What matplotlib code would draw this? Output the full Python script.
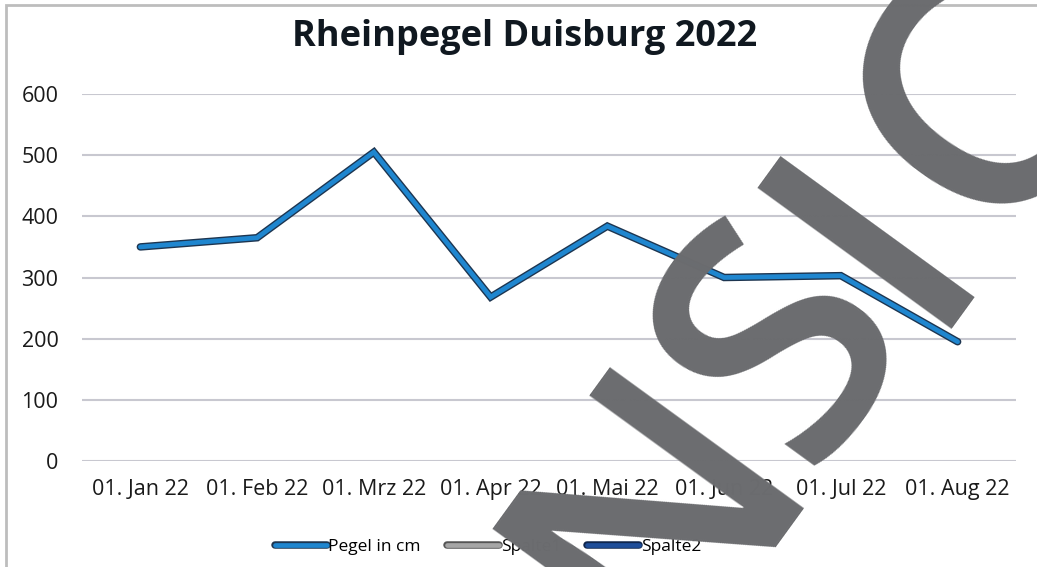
import matplotlib
matplotlib.use("Agg")
import matplotlib.pyplot as plt
import matplotlib.patheffects as pe
from matplotlib.patches import Rectangle

categories = ["01. Jan 22", "01. Feb 22", "01. Mrz 22", "01. Apr 22",
              "01. Mai 22", "01. Jun 22", "01. Jul 22", "01. Aug 22"]
pegel_cm = [350, 365, 505, 268, 384, 300, 303, 195]
spalte1 = []
spalte2 = []
yticks = [0, 100, 200, 300, 400, 500, 600]
watermark = "ANSICHT"

plt.rcParams['font.family'] = ['Open Sans', 'DejaVu Sans']

fig = plt.figure(figsize=(10.37, 5.67), dpi=100)
ax = fig.add_axes([82/1037, 1-461/567, (1016-82)/1037, (461-94)/567])

x = list(range(len(categories)))
ax.plot(x, pegel_cm, color='#1f86cf', lw=3.4, solid_capstyle='round', solid_joinstyle='miter',
        label='Pegel in cm', zorder=3,
        path_effects=[pe.Stroke(linewidth=5.4, foreground='#1d3550', capstyle='round'), pe.Normal()])
ax.plot(spalte1, spalte1, color='#a6a6a6', lw=3.4, solid_capstyle='round', label='Spalte1',
        path_effects=[pe.Stroke(linewidth=5.4, foreground='#555555', capstyle='round'), pe.Normal()])
ax.plot(spalte2, spalte2, color='#1f4e9a', lw=3.4, solid_capstyle='round', label='Spalte2',
        path_effects=[pe.Stroke(linewidth=5.4, foreground='#10264d', capstyle='round'), pe.Normal()])

ax.set_xlim(-0.5, len(categories) - 0.5)
ax.set_ylim(0, 600)
ax.set_yticks(yticks)
ax.set_xticks(x)
ax.set_xticklabels(categories)
ax.grid(axis='y', color='#c8c8d0', lw=1.5)
ax.set_axisbelow(True)
for s in ax.spines.values():
    s.set_visible(False)
ax.tick_params(length=0, labelsize=15.5, colors='#1a1a1a')
ax.tick_params(axis='y', pad=17)
ax.tick_params(axis='x', pad=13)

fig.text(525/1037, 1-37/567, "Rheinpegel Duisburg 2022", ha='center', va='center',
         fontsize=26, fontweight='bold', color='#101820')

leg = fig.legend(loc='center', bbox_to_anchor=(488/1037, 1-547/567), ncol=3, frameon=False,
                 fontsize=12.5, handlelength=3.0, handletextpad=0.1, columnspacing=1.5)

fig.patches.append(Rectangle((6/1037, -0.1), 1.2, 1 - 5/567 + 0.1, transform=fig.transFigure,
                             fill=False, edgecolor='#bdbdbd', lw=2, zorder=0))

# watermark letters placed along a 54-degree baseline (pixel centres)
wm_pos = [(500, 735), (662, 512), (790, 345), (880, 236), (990, 106), (1143, -104), (1288, -304)]
for ch, (px, py) in zip(watermark, wm_pos):
    fig.text(px/1037, 1-py/567, ch, ha='center', va='center', rotation=54,
             fontsize=242, fontweight='semibold', color='#6b6c6f', zorder=20,
             family='Open Sans')

fig.savefig("out.png", dpi=100)
